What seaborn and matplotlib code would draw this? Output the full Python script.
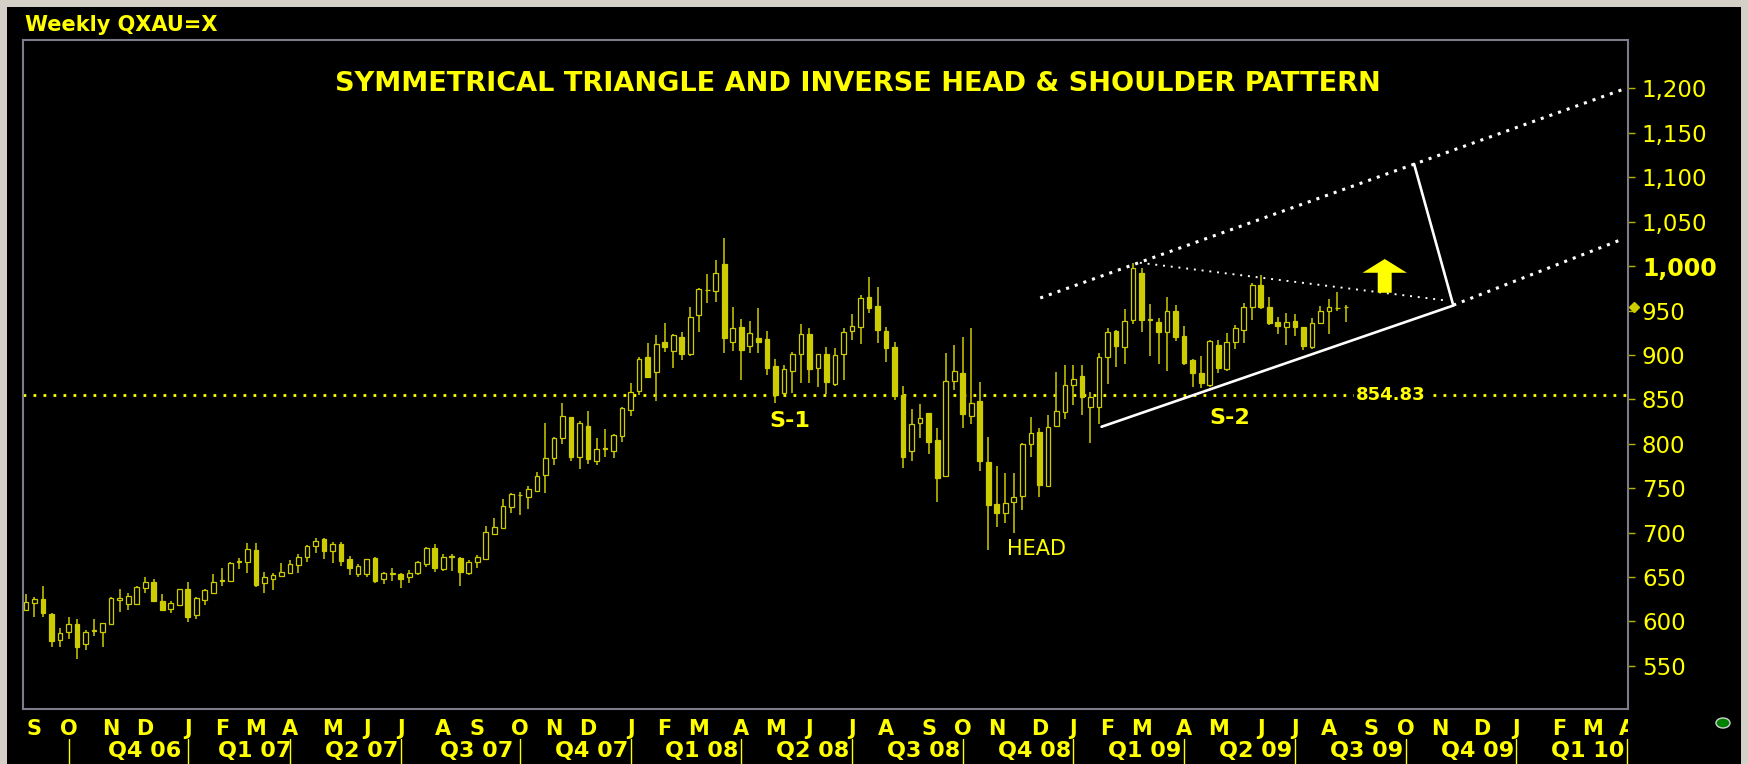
import numpy as np
import pandas as pd
import seaborn as sns
import matplotlib.pyplot as plt
from matplotlib.patches import Ellipse, Rectangle
from matplotlib.transforms import Bbox, TransformedBbox, blended_transform_factory

# Weekly gold (QXAU=X) candles, first bar = week of 2006-08-27
FIRST_WEEK = "2006-08-27"

OPEN = [612.7, 620.2, 624.7, 608.2, 579.0, 587.6, 596.6, 574.0, 589.5, 588.3,
        597.0, 624.0, 619.5, 619.5, 637.1, 644.6, 623.2, 613.5, 618.4, 636.0,
        607.1, 624.0, 632.2, 645.5, 645.4, 667.0, 667.1, 680.3, 642.7, 647.3,
        651.0, 654.8, 663.4, 672.8, 684.8, 692.7, 679.5, 687.0, 670.1, 653.3,
        652.9, 670.9, 647.3, 653.6, 653.2, 649.5, 654.0, 664.5, 682.9, 658.9,
        672.4, 671.6, 654.0, 667.1, 670.1, 698.0, 704.7, 729.1, 742.0, 739.6,
        746.8, 764.8, 783.5, 806.1, 829.7, 784.7, 820.0, 780.9, 794.5, 792.2,
        809.0, 838.0, 859.7, 897.3, 881.1, 914.9, 904.8, 919.8, 901.0, 944.9,
        972.7, 971.9, 1002.0, 914.1, 931.0, 910.4, 918.6, 917.5, 887.5, 856.7,
        882.2, 901.0, 923.5, 885.6, 901.0, 867.2, 901.0, 926.9, 931.8, 964.8,
        955.0, 927.3, 908.5, 854.8, 792.2, 823.7, 834.2, 804.2, 763.6, 871.0,
        880.0, 831.2, 848.5, 779.8, 732.1, 721.6, 734.0, 741.0, 799.7, 813.6,
        752.4, 819.9, 836.1, 866.1, 876.2, 841.0, 841.0, 897.2, 926.9, 908.5,
        939.3, 992.6, 939.3, 937.4, 926.1, 949.8, 921.6, 894.2, 880.0, 866.1,
        911.2, 883.7, 914.9, 928.0, 954.3, 978.7, 953.5, 937.4, 931.8, 938.5,
        931.0, 909.3, 936.3, 949.8, 952.5, 953.5]
HIGH = [630.4, 627.0, 639.7, 609.0, 592.0, 605.2, 603.0, 590.2, 602.2, 598.5,
        627.7, 636.0, 631.5, 639.7, 649.5, 648.0, 630.7, 623.2, 636.5, 644.6,
        627.7, 636.0, 652.9, 660.4, 667.1, 671.6, 687.8, 687.8, 655.1, 654.0,
        666.0, 669.0, 675.8, 686.0, 693.4, 693.4, 689.7, 689.7, 673.9, 664.5,
        670.5, 672.8, 655.9, 660.4, 654.8, 657.8, 667.9, 684.0, 687.0, 675.8,
        675.8, 672.8, 668.7, 674.7, 707.3, 716.7, 737.7, 744.9, 746.0, 752.7,
        768.5, 823.0, 807.9, 845.5, 830.5, 825.6, 836.8, 806.0, 816.2, 810.9,
        841.0, 868.7, 897.3, 913.8, 922.4, 936.3, 923.5, 926.1, 953.5, 975.0,
        991.1, 1006.9, 1031.3, 953.5, 940.0, 938.5, 952.4, 927.3, 895.0, 888.6,
        903.6, 934.8, 929.9, 901.0, 908.5, 907.4, 929.9, 946.0, 967.4, 987.3,
        976.1, 931.8, 914.9, 865.0, 838.7, 844.3, 835.0, 817.3, 902.5, 911.2,
        919.8, 929.9, 869.9, 807.2, 774.9, 767.4, 767.4, 800.4, 829.7, 817.3,
        832.3, 881.1, 888.6, 888.6, 888.6, 858.6, 902.5, 929.9, 928.0, 951.3,
        1003.9, 997.5, 957.3, 941.2, 965.6, 956.2, 932.5, 895.0, 898.8, 917.0,
        916.8, 925.0, 933.7, 958.0, 981.3, 990.0, 964.8, 942.3, 947.6, 946.0,
        931.8, 941.2, 955.0, 962.6, 971.2, 956.2]
LOW = [611.9, 605.2, 605.2, 570.7, 571.4, 579.7, 557.9, 567.7, 583.4, 571.4,
       595.8, 610.8, 612.7, 618.4, 631.5, 622.1, 612.0, 609.7, 618.0, 599.6,
       602.2, 618.4, 631.5, 639.7, 644.6, 658.5, 654.0, 638.2, 631.5, 635.2,
       650.2, 652.9, 654.8, 667.1, 677.3, 669.8, 666.0, 662.3, 652.1, 649.5,
       650.2, 643.5, 641.6, 645.4, 637.1, 643.5, 652.1, 660.8, 655.9, 657.0,
       656.6, 639.7, 652.1, 659.6, 669.0, 697.2, 704.0, 721.6, 719.7, 726.1,
       746.0, 744.9, 776.0, 799.7, 780.9, 771.2, 777.2, 776.0, 785.4, 783.5,
       802.3, 831.2, 854.9, 873.6, 848.4, 903.6, 884.9, 894.2, 898.8, 925.4,
       958.1, 959.9, 902.5, 904.4, 871.7, 901.8, 902.5, 877.4, 845.4, 855.0,
       857.5, 868.7, 868.7, 863.5, 856.0, 865.0, 871.7, 916.8, 912.3, 947.5,
       913.8, 891.6, 849.2, 772.2, 780.9, 806.1, 788.4, 734.7, 762.0, 860.5,
       817.3, 822.2, 769.6, 680.3, 705.8, 711.1, 699.1, 725.3, 784.7, 739.6,
       751.0, 819.0, 827.4, 843.6, 832.3, 801.2, 822.2, 867.2, 886.0, 889.8,
       934.8, 926.1, 898.8, 889.8, 882.2, 916.0, 888.6, 864.2, 862.3, 864.2,
       879.2, 882.2, 906.3, 913.8, 939.3, 951.3, 933.7, 923.5, 911.2, 921.3,
       905.5, 906.3, 934.8, 923.5, 949.8, 937.4]
CLOSE = [622.1, 625.1, 609.0, 577.8, 586.4, 596.6, 571.4, 588.3, 590.5, 597.7,
         625.9, 626.0, 628.5, 638.2, 644.6, 622.9, 612.7, 621.0, 636.0, 605.2,
         625.9, 635.2, 644.6, 646.5, 666.0, 667.5, 681.8, 640.9, 649.5, 651.7,
         655.9, 664.2, 672.0, 685.2, 690.8, 679.5, 687.0, 668.2, 659.6, 662.3,
         669.8, 645.4, 654.0, 654.4, 647.3, 654.8, 667.1, 682.9, 659.6, 672.8,
         673.2, 655.9, 666.8, 672.8, 700.2, 706.6, 730.2, 743.0, 742.8, 749.0,
         764.0, 784.3, 806.8, 831.2, 784.7, 823.0, 782.4, 793.7, 795.0, 809.8,
         839.8, 858.6, 895.0, 875.5, 912.3, 909.3, 922.4, 901.0, 943.0, 973.8,
         973.3, 991.8, 918.6, 929.9, 905.5, 925.0, 914.1, 884.9, 854.8, 883.7,
         901.4, 923.5, 884.1, 900.5, 869.1, 899.9, 926.1, 932.5, 963.7, 953.1,
         928.0, 908.1, 854.1, 784.6, 821.8, 828.6, 802.3, 761.8, 871.0, 882.2,
         833.4, 846.2, 780.9, 731.0, 722.3, 733.6, 740.3, 799.3, 812.4, 753.5,
         818.4, 837.2, 866.1, 872.5, 853.0, 852.9, 897.2, 926.1, 910.4, 938.5,
         997.5, 939.3, 940.0, 926.1, 949.8, 920.5, 891.2, 879.2, 868.0, 916.0,
         884.9, 914.9, 930.0, 954.3, 978.7, 954.3, 936.3, 932.5, 937.4, 931.8,
         910.0, 935.5, 949.8, 954.3, 953.0, 954.0]

MONTH_LETTERS = list("SOND" + "JFMAMJJASOND" * 3 + "JFMA")
QUARTER_LABELS = ["Q4 06", "Q1 07", "Q2 07", "Q3 07", "Q4 07", "Q1 08", "Q2 08",
                  "Q3 08", "Q4 08", "Q1 09", "Q2 09", "Q3 09", "Q4 09", "Q1 10"]
Y_TICKS = list(range(550, 1201, 50))

SUPPORT_LEVEL = 854.83
# trend lines as (week, price) end points
UPPER_CHANNEL = ([119.1, 188.0], [964.1, 1200.6])
LOWER_CHANNEL = ([167.6, 187.5], [956.0, 1030.5])
TRIANGLE_LOW = ([126.3, 167.6], [819.1, 955.6])
TRIANGLE_HIGH = ([130.8, 167.0], [1003.8, 961.0])
TARGET_LINE = ([163.0, 167.6], [1115.0, 956.0])
ARROW = dict(x=159.55, tip=1008, neck=992.5, base=970, head=2.6, shaft=0.82)

LABELS = [("S-1", 89.7, 826.0, "bold", 16), ("S-2", 141.3, 829.5, "bold", 16),
          ("HEAD", 118.7, 681.0, "normal", 15)]

YELLOW = "#ffff00"
CANDLE = "#cccc00"
FRAME = "#7c7c8c"

W, H = 1749, 764
sns.set_theme(style="dark", rc={
    "figure.facecolor": "black", "axes.facecolor": "black",
    "axes.edgecolor": FRAME, "text.color": YELLOW,
    "xtick.color": YELLOW, "ytick.color": YELLOW,
})
plt.rcParams["font.family"] = ["DejaVu Sans"]

fig = plt.figure(figsize=(W / 100, H / 100), dpi=100)
ax = fig.add_axes([23 / W, 1 - 709 / H, 1605 / W, 669 / H])
ax.grid(False)

df = pd.DataFrame({"open": OPEN, "high": HIGH, "low": LOW, "close": CLOSE})
df["week"] = np.arange(len(df))
up = df["close"] >= df["open"]

ax.vlines(df["week"], df["low"], df["high"], color=CANDLE, lw=1.1, zorder=2)
ax.bar(df["week"], (df["close"] - df["open"]).abs(),
       bottom=df[["open", "close"]].min(axis=1), width=0.55,
       color=np.where(up, "black", CANDLE), edgecolor=CANDLE,
       linewidth=0.9, zorder=3)

# support line + label
ax.axhline(SUPPORT_LEVEL, color=YELLOW, lw=2.0, ls=(0, (1.0, 2.6)), zorder=1)
ax.text(160.3, SUPPORT_LEVEL, f"{SUPPORT_LEVEL:.2f}", color=YELLOW,
        fontsize=13, fontweight="bold", ha="center", va="center",
        bbox=dict(facecolor="black", edgecolor="none", pad=2), zorder=4)

# channel and triangle lines
dotted = dict(color="white", linewidth=2.2, linestyle=(0, (1.0, 2.0)))
for xs, ys in [UPPER_CHANNEL, LOWER_CHANNEL]:
    sns.lineplot(x=xs, y=ys, ax=ax, zorder=5, **dotted)
sns.lineplot(x=TRIANGLE_HIGH[0], y=TRIANGLE_HIGH[1], ax=ax, color="white",
             linewidth=1.4, linestyle=(0, (1.0, 3.0)), zorder=5)
for xs, ys in [TRIANGLE_LOW, TARGET_LINE]:
    sns.lineplot(x=xs, y=ys, ax=ax, color="white", linewidth=1.9, zorder=5)

a = ARROW
ax.fill([a["x"] - a["shaft"], a["x"] - a["shaft"], a["x"] - a["head"], a["x"],
         a["x"] + a["head"], a["x"] + a["shaft"], a["x"] + a["shaft"]],
        [a["base"], a["neck"], a["neck"], a["tip"], a["neck"], a["neck"], a["base"]],
        color=YELLOW, lw=0, zorder=6)

for txt, x, y, weight, size in LABELS:
    ax.text(x, y, txt, color=YELLOW, fontsize=size, fontweight=weight,
            ha="center", va="center", zorder=6)

ax.set_xlim(-0.35, 188.12)
ax.set_ylim(501.3, 1254.6)

# month ticks at the first weekly bar of each month
dates = pd.date_range(FIRST_WEEK, periods=190, freq="W-SUN")
month_pos = [i for i in range(1, len(dates)) if dates[i].month != dates[i - 1].month]
ax.set_xticks(month_pos, MONTH_LETTERS, fontweight="bold")
ax.tick_params(axis="x", length=2, width=1.5, pad=5, labelsize=15,
               color=YELLOW, labelcolor=YELLOW)

clip = TransformedBbox(Bbox([[0, 0], [1628 / W, 1]]), fig.transFigure)
for lbl in ax.get_xticklabels():
    lbl.set_clip_box(clip)
    lbl.set_clip_on(True)

# quarter row
qpos = [p for p in month_pos if dates[p].month in (1, 4, 7, 10)]
trans = blended_transform_factory(ax.transData, ax.transAxes)
for p in qpos:
    ax.plot([p, p], [-0.0448, -0.09], color=YELLOW, lw=1, transform=trans,
            clip_on=False)
for lab, p0, p1 in zip(QUARTER_LABELS, qpos[:-1], qpos[1:]):
    t = ax.text((p0 + p1) / 2 + 1.9, -0.063, lab, transform=trans,
                color=YELLOW, fontsize=16, fontweight="bold",
                ha="center", va="center")
    t.set_clip_box(clip)
    t.set_clip_on(True)

# price axis on the right
ax.yaxis.tick_right()
ax.set_yticks(Y_TICKS, [f"{v:,}" for v in Y_TICKS])
ax.tick_params(axis="y", length=5, width=1, pad=5, labelsize=16.5,
               color="#b4b400", labelcolor=YELLOW)
for lbl in ax.get_yticklabels():
    if lbl.get_text() == "1,000":
        lbl.set_fontweight("bold")
        lbl.set_fontsize(17)
ax.plot([1.004], [CLOSE[-1]], marker="D", markersize=5, color=CANDLE,
        transform=blended_transform_factory(ax.transAxes, ax.transData),
        clip_on=False)

for s in ax.spines.values():
    s.set_color(FRAME)
    s.set_linewidth(1.5)

fig.text(858 / W, 1 - 84 / H, "SYMMETRICAL TRIANGLE AND INVERSE HEAD & SHOULDER PATTERN",
         color=YELLOW, fontsize=19.5, fontweight="bold", ha="center", va="center")
fig.text(25 / W, 1 - 25 / H, "Weekly QXAU=X", color=YELLOW, fontsize=15,
         fontweight="bold", ha="left", va="center")

# window borders and status dot
for x0, y0, w, h in [(0, 0, 7, H), (0, H - 7, W, 7), (W - 8, 0, 8, H)]:
    fig.patches.append(Rectangle((x0 / W, y0 / H), w / W, h / H,
                                 transform=fig.transFigure, facecolor="#d4d0c8",
                                 edgecolor="none"))
fig.patches.append(Ellipse((1723 / W, 1 - 723 / H), 14 / W, 10 / H,
                           transform=fig.transFigure, facecolor="#008000",
                           edgecolor="#cfcfcf", lw=1))

fig.savefig("out.png", dpi=100, facecolor="black")
